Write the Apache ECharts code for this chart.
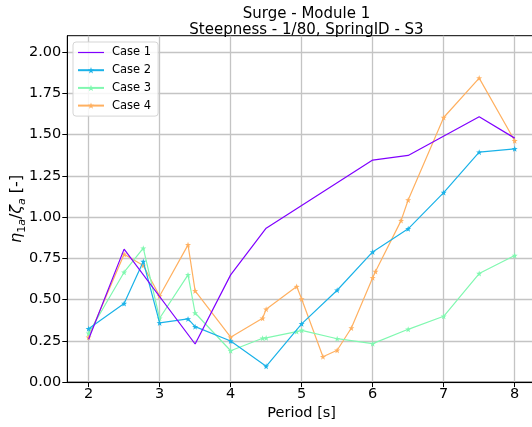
<!DOCTYPE html>
<html>
<head>
<meta charset="utf-8">
<script src="https://cdn.jsdelivr.net/npm/echarts@6/dist/echarts.min.js"></script>
<style>html,body{margin:0;padding:0;background:#fff}#c{width:532px;height:427px}</style>
</head>
<body>
<div id="c"></div>
<script>
const seriesNames = ['Case 1', 'Case 2', 'Case 3', 'Case 4'];
const case1X = [2, 2.5, 3.5, 4, 4.5, 6, 6.5, 7.5, 8];
const case1Y = [0.26, 0.806, 0.231, 0.65, 0.933, 1.346, 1.374, 1.609, 1.479];
const case2X = [2, 2.5, 2.77, 3, 3.4, 3.5, 4, 4.5, 5, 5.5, 6, 6.5, 7, 7.5, 8];
const case2Y = [0.324, 0.476, 0.731, 0.359, 0.383, 0.336, 0.249, 0.096, 0.353, 0.557, 0.789, 0.929, 1.149, 1.394, 1.414];
const case3X = [2, 2.5, 2.77, 3, 3.4, 3.5, 4, 4.45, 4.5, 4.93, 5, 5.5, 6, 6.5, 7, 7.5, 8];
const case3Y = [0.296, 0.666, 0.812, 0.387, 0.65, 0.419, 0.19, 0.266, 0.268, 0.306, 0.314, 0.263, 0.233, 0.32, 0.399, 0.658, 0.767];
const case4X = [2, 2.5, 2.77, 3, 3.4, 3.5, 4, 4.45, 4.5, 4.93, 5, 5.3, 5.5, 5.7, 6, 6.04, 6.4, 6.5, 7, 7.5, 8];
const case4Y = [0.272, 0.775, 0.707, 0.522, 0.832, 0.553, 0.272, 0.387, 0.442, 0.579, 0.504, 0.154, 0.193, 0.328, 0.632, 0.67, 0.979, 1.104, 1.604, 1.843, 1.463];
const xTicks = [2, 3, 4, 5, 6, 7, 8];
const yTicks = [0, 0.25, 0.5, 0.75, 1.0, 1.25, 1.5, 1.75, 2.0];

const colors = ['#8000ff', '#1ab2e8', '#80f8b0', '#ffb060'];
const star = 'path://M0,-10 L2.35,-3.24 L9.51,-3.09 L3.8,1.24 L5.88,8.09 L0,4 L-5.88,8.09 L-3.8,1.24 L-9.51,-3.09 L-2.35,-3.24 Z';
const lineIcon = 'path://M0,0 M0,3.4 L26,3.4 L26,4.6 L0,4.6 Z M26,8';
const zip = (xs, ys) => xs.map((x, i) => [x, ys[i]]);
const allX = [case1X, case2X, case3X, case4X];
const allY = [case1Y, case2Y, case3Y, case4Y];
const font = 'DejaVu Sans';

const chart = echarts.init(document.getElementById('c'), null, {renderer: 'canvas'});
chart.setOption({
  animation: false,
  backgroundColor: '#fff',
  title: {
    text: 'Surge - Module 1\nSteepness - 1/80, SpringID - S3',
    left: 301.5, top: 0.5, textAlign: 'center',
    textStyle: {fontFamily: font, fontSize: 15, fontWeight: 'normal', color: '#000', lineHeight: 16.5}
  },
  legend: {
    left: 73, top: 42, orient: 'vertical',
    padding: [4, 7, 4, 4],
    itemWidth: 26, itemHeight: 8, itemGap: 4.7,
    backgroundColor: 'rgba(255,255,255,0.85)', borderColor: '#d5d5d5', borderWidth: 1, borderRadius: 3,
    textStyle: {fontFamily: font, fontSize: 11.5, color: '#000', lineHeight: 13, padding: [0, 0, 0, 3]},
    data: [{name: seriesNames[0], icon: lineIcon}, seriesNames[1], seriesNames[2], seriesNames[3]]
  },
  grid: {left: 67.3, top: 35.7, right: -4, bottom: 44.9, show: true, borderColor: '#000', borderWidth: 1, containLabel: false, outerBoundsMode: 'none'},
  xAxis: {
    type: 'value', min: 1.7, max: 8.3,
    name: 'Period [s]', nameLocation: 'middle', nameGap: 24, nameMoveOverlap: false,
    nameTextStyle: {fontFamily: font, fontSize: 14.5, color: '#000'},
    axisLine: {show: true, onZero: false, lineStyle: {color: '#000', width: 1}},
    axisTick: {show: true, length: 5, lineStyle: {color: '#000'}, customValues: xTicks},
    axisLabel: {fontFamily: font, fontSize: 14.5, color: '#000', margin: 5, customValues: xTicks, formatter: v => String(v)},
    splitLine: {show: true, lineStyle: {color: '#c4c4c4', width: 1.3}}
  },
  yAxis: {
    type: 'value', min: 0, max: 2.1,
    name: '{it|η}{sub|1}{subit|a}{n|/}{it|ζ}{subit|a}{n| [-]}',
    nameLocation: 'middle', nameGap: 40, nameRotate: 90, nameMoveOverlap: false,
    nameTextStyle: {
      fontFamily: font, fontSize: 16, color: '#000',
      rich: {
        it: {fontFamily: font, fontSize: 16, fontStyle: 'italic', color: '#000', lineHeight: 20, verticalAlign: 'middle'},
        n: {fontFamily: font, fontSize: 16, color: '#000', lineHeight: 20, verticalAlign: 'middle'},
        sub: {fontFamily: font, fontSize: 11, color: '#000', lineHeight: 11, verticalAlign: 'bottom'},
        subit: {fontFamily: font, fontSize: 11, fontStyle: 'italic', color: '#000', lineHeight: 11, verticalAlign: 'bottom'}
      }
    },
    axisLine: {show: true, onZero: false, lineStyle: {color: '#000', width: 1}},
    axisTick: {show: true, length: 5, lineStyle: {color: '#000'}, customValues: yTicks},
    axisLabel: {fontFamily: font, fontSize: 14.5, color: '#000', margin: 6, customValues: yTicks, formatter: v => v.toFixed(2)},
    splitLine: {show: true, lineStyle: {color: '#c4c4c4', width: 1.3}}
  },
  series: seriesNames.map((name, i) => ({
    name: name, type: 'line',
    data: zip(allX[i], allY[i]),
    symbol: i === 0 ? 'none' : star,
    symbolSize: 6,
    showSymbol: i !== 0,
    color: colors[i],
    lineStyle: {color: colors[i], width: 1.2},
    itemStyle: {color: colors[i]},
    z: 10 - i
  }))
});
</script>
</body>
</html>
